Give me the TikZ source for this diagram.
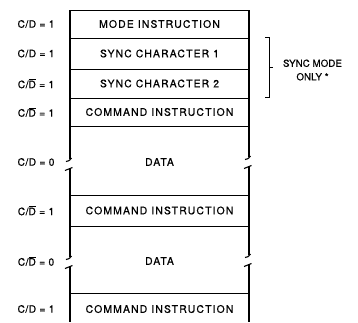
\documentclass[tikz,border=0pt]{standalone}
\usepackage{fontspec}
\setmainfont{TeX Gyre Heros}
\newfontfamily\boxfont[LetterSpace=11,FakeBold=0.6]{TeX Gyre Heros}
\newfontfamily\labfont[LetterSpace=5,FakeBold=0.6]{TeX Gyre Heros}
\newfontfamily\syncfont[LetterSpace=1,FakeBold=0.6]{TeX Gyre Heros}
\newcommand{\Dbar}{$\overline{\hbox{D}}$}
\begin{document}
\begin{tikzpicture}[x=1pt,y=-1pt,
  boxtext/.style={font=\boxfont\fontsize{10.4}{12}\selectfont, inner sep=0pt},
  labtext/.style={font=\labfont\fontsize{10.2}{12}\selectfont, inner sep=0pt},
  synctext/.style={font=\syncfont\fontsize{9.7}{13.5}\selectfont, inner sep=0pt, align=center},
  hline/.style={line width=0.8pt},
  vline/.style={line width=1.2pt},
  tick/.style={line width=1.1pt}]
\useasboundingbox (0,0) rectangle (358,322);
% horizontal lines
\foreach \y in {10,38,69,98,126,195,226,293}
  \draw[hline] (70,\y) -- (249,\y);
% vertical lines with breaks
\coordinate (L0) at (70,10);
\coordinate (R0) at (249,10);
\draw[vline] (L0) -- (70,159);
\draw[vline] (70,168) -- (70,257);
\draw[vline] (70,266) -- (70,322);
\draw[vline] (R0) -- (249,157);
\draw[vline] (249,166) -- (249,255);
\draw[vline] (249,264) -- (249,322);
% break ticks
\foreach \x/\y in {70/159,70/257,249/157,249/255}{
  \draw[tick] (\x-4,\y+2.5) .. controls (\x-1,\y+2) .. (\x+1.5,\y-1);
  \draw[tick] (\x-5,\y+11.5) .. controls (\x-1.5,\y+10) .. (\x+2.5,\y+8.5);
}
% box texts
\node[boxtext] (r1) at (159.5,24) {MODE INSTRUCTION};
\node[boxtext] (r2) at (159.5,53.5) {SYNC CHARACTER 1};
\node[boxtext] (r3) at (159.5,83.5) {SYNC CHARACTER 2};
\node[boxtext] (r4) at (159.5,112) {COMMAND INSTRUCTION};
\node[boxtext] (r5) at (159.5,162) {DATA};
\node[boxtext] (r6) at (159.5,210.5) {COMMAND INSTRUCTION};
\node[boxtext] (r7) at (159.5,261) {DATA};
\node[boxtext] (r8) at (159.5,309) {COMMAND INSTRUCTION};
% left labels
\node[labtext] (l1) at (36,24) {C/D = 1};
\node[labtext] (l2) at (36,53.5) {C/D = 1};
\node[labtext] (l3) at (36,83.5) {C/\Dbar\ = 1};
\node[labtext] (l4) at (36,112) {C/\Dbar\ = 1};
\node[labtext] (l5) at (36,162) {C/D = 0};
\node[labtext] (l6) at (36,210.5) {C/\Dbar\ = 1};
\node[labtext] (l7) at (36,261) {C/\Dbar\ = 0};
\node[labtext] (l8) at (36,309) {C/D = 1};
% bracket
\coordinate (bt) at (269,37.5);
\coordinate (bb) at (269,97);
\coordinate (bm) at (269,67);
\draw[hline] (265,37.5) -- (bt) -- (bb) -- (265,97);
\draw[hline] (bm) -- (273,67);
\node[synctext] (sync) at (312.5,70) {SYNC MODE\\ONLY *};
\end{tikzpicture}
\end{document}
